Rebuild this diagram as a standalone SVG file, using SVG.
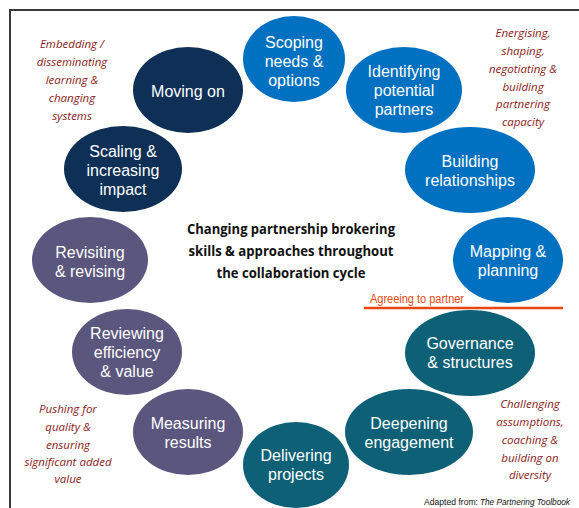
<svg xmlns="http://www.w3.org/2000/svg" width="579" height="508" viewBox="0 0 579 508">
  <style>
    .navy { fill: #0E2F56; }
    .blue { fill: #0070C0; }
    .teal { fill: #0D6075; }
    .purple { fill: #5B567E; }
    .lbl { font-family: "Liberation Sans", Arial, sans-serif; font-size: 16px; fill: #ffffff; text-anchor: middle; }
    .note { font-family: "Open Sans", "Liberation Sans", sans-serif; font-style: italic; font-size: 11.5px; fill: #8B1A1A; text-anchor: middle; }
    .title { font-family: "Open Sans", "Liberation Sans", sans-serif; font-weight: bold; font-size: 14px; fill: #111111; text-anchor: middle; }
    .src { font-family: "Liberation Sans", Arial, sans-serif; font-size: 9px; fill: #111111; }
  </style>

  <rect width="579" height="508" fill="#ffffff"/>

  <!-- frame -->
  <path d="M10 508 V10 H579" fill="none" stroke="#3a3a3a" stroke-width="2"/>

  <!-- cycle stages -->
  <g id="scoping">
    <ellipse class="blue" cx="294" cy="59" rx="51" ry="43"/>
    <text class="lbl" x="294" y="48">Scoping</text>
    <text class="lbl" x="294" y="67">needs &amp;</text>
    <text class="lbl" x="294" y="86">options</text>
  </g>
  <g id="identifying">
    <ellipse class="blue" cx="404" cy="90" rx="58" ry="43"/>
    <text class="lbl" x="404" y="77">Identifying</text>
    <text class="lbl" x="404" y="96">potential</text>
    <text class="lbl" x="404" y="115">partners</text>
  </g>
  <g id="building">
    <ellipse class="blue" cx="470" cy="170" rx="65" ry="43"/>
    <text class="lbl" x="470" y="167">Building</text>
    <text class="lbl" x="470" y="186">relationships</text>
  </g>
  <g id="mapping">
    <ellipse class="blue" cx="508" cy="260" rx="55" ry="43"/>
    <text class="lbl" x="508" y="257">Mapping &amp;</text>
    <text class="lbl" x="508" y="276">planning</text>
  </g>
  <g id="governance">
    <ellipse class="teal" cx="470" cy="353" rx="65" ry="43"/>
    <text class="lbl" x="470" y="349">Governance</text>
    <text class="lbl" x="470" y="368">&amp; structures</text>
  </g>
  <g id="deepening">
    <ellipse class="teal" cx="409" cy="432" rx="64" ry="43"/>
    <text class="lbl" x="409" y="429">Deepening</text>
    <text class="lbl" x="409" y="448">engagement</text>
  </g>
  <g id="delivering">
    <ellipse class="teal" cx="296" cy="465" rx="53" ry="43"/>
    <text class="lbl" x="296" y="461">Delivering</text>
    <text class="lbl" x="296" y="480">projects</text>
  </g>
  <g id="measuring">
    <ellipse class="purple" cx="188" cy="432" rx="55" ry="43"/>
    <text class="lbl" x="188" y="429">Measuring</text>
    <text class="lbl" x="188" y="448">results</text>
  </g>
  <g id="reviewing">
    <ellipse class="purple" cx="127" cy="352" rx="55" ry="43"/>
    <text class="lbl" x="127" y="339">Reviewing</text>
    <text class="lbl" x="127" y="358">efficiency</text>
    <text class="lbl" x="127" y="377">&amp; value</text>
  </g>
  <g id="revisiting">
    <ellipse class="purple" cx="90" cy="260" rx="58" ry="43"/>
    <text class="lbl" x="90" y="258">Revisiting</text>
    <text class="lbl" x="90" y="277">&amp; revising</text>
  </g>
  <g id="scaling">
    <ellipse class="navy" cx="123" cy="169" rx="59" ry="43"/>
    <text class="lbl" x="123" y="157">Scaling &amp;</text>
    <text class="lbl" x="123" y="176">increasing</text>
    <text class="lbl" x="123" y="195">impact</text>
  </g>
  <g id="moving-on">
    <ellipse class="navy" cx="188" cy="90" rx="55" ry="43"/>
    <text class="lbl" x="188" y="97">Moving on</text>
  </g>

  <!-- partnership agreement divider -->
  <g id="connectors">
    <line x1="364" y1="308" x2="563" y2="308" stroke="#E8470F" stroke-width="2.5"/>
  </g>
  <text x="370" y="303" font-family="Liberation Sans, Arial, sans-serif" font-size="12" fill="#E8470F" textLength="94" lengthAdjust="spacingAndGlyphs">Agreeing to partner</text>

  <!-- centre heading -->
  <g id="heading">
    <text class="title" x="291" y="234" textLength="208" lengthAdjust="spacingAndGlyphs">Changing partnership brokering</text>
    <text class="title" x="291" y="256" textLength="205" lengthAdjust="spacingAndGlyphs">skills &amp; approaches throughout</text>
    <text class="title" x="291" y="278" textLength="149" lengthAdjust="spacingAndGlyphs">the collaboration cycle</text>
  </g>

  <!-- broker skills notes -->
  <g id="note-embedding">
    <text class="note" x="72" y="48">Embedding /</text>
    <text class="note" x="72" y="66">disseminating</text>
    <text class="note" x="72" y="84">learning &amp;</text>
    <text class="note" x="72" y="102">changing</text>
    <text class="note" x="72" y="120">systems</text>
  </g>
  <g id="note-energising">
    <text class="note" x="523" y="37">Energising,</text>
    <text class="note" x="523" y="55">shaping,</text>
    <text class="note" x="523" y="73">negotiating &amp;</text>
    <text class="note" x="523" y="91">building</text>
    <text class="note" x="523" y="108">partnering</text>
    <text class="note" x="523" y="126">capacity</text>
  </g>
  <g id="note-pushing">
    <text class="note" x="68" y="413">Pushing for</text>
    <text class="note" x="68" y="431">quality &amp;</text>
    <text class="note" x="68" y="449">ensuring</text>
    <text class="note" x="68" y="466">significant added</text>
    <text class="note" x="68" y="483">value</text>
  </g>
  <g id="note-challenging">
    <text class="note" x="530" y="408">Challenging</text>
    <text class="note" x="530" y="426">assumptions,</text>
    <text class="note" x="530" y="444">coaching &amp;</text>
    <text class="note" x="530" y="462">building on</text>
    <text class="note" x="530" y="479">diversity</text>
  </g>

  <!-- source line -->
  <text class="src" x="424" y="505" textLength="54" lengthAdjust="spacingAndGlyphs">Adapted from:</text>
  <text class="src" x="480" y="505" font-style="italic" textLength="90" lengthAdjust="spacingAndGlyphs">The Partnering Toolbook</text>
</svg>
